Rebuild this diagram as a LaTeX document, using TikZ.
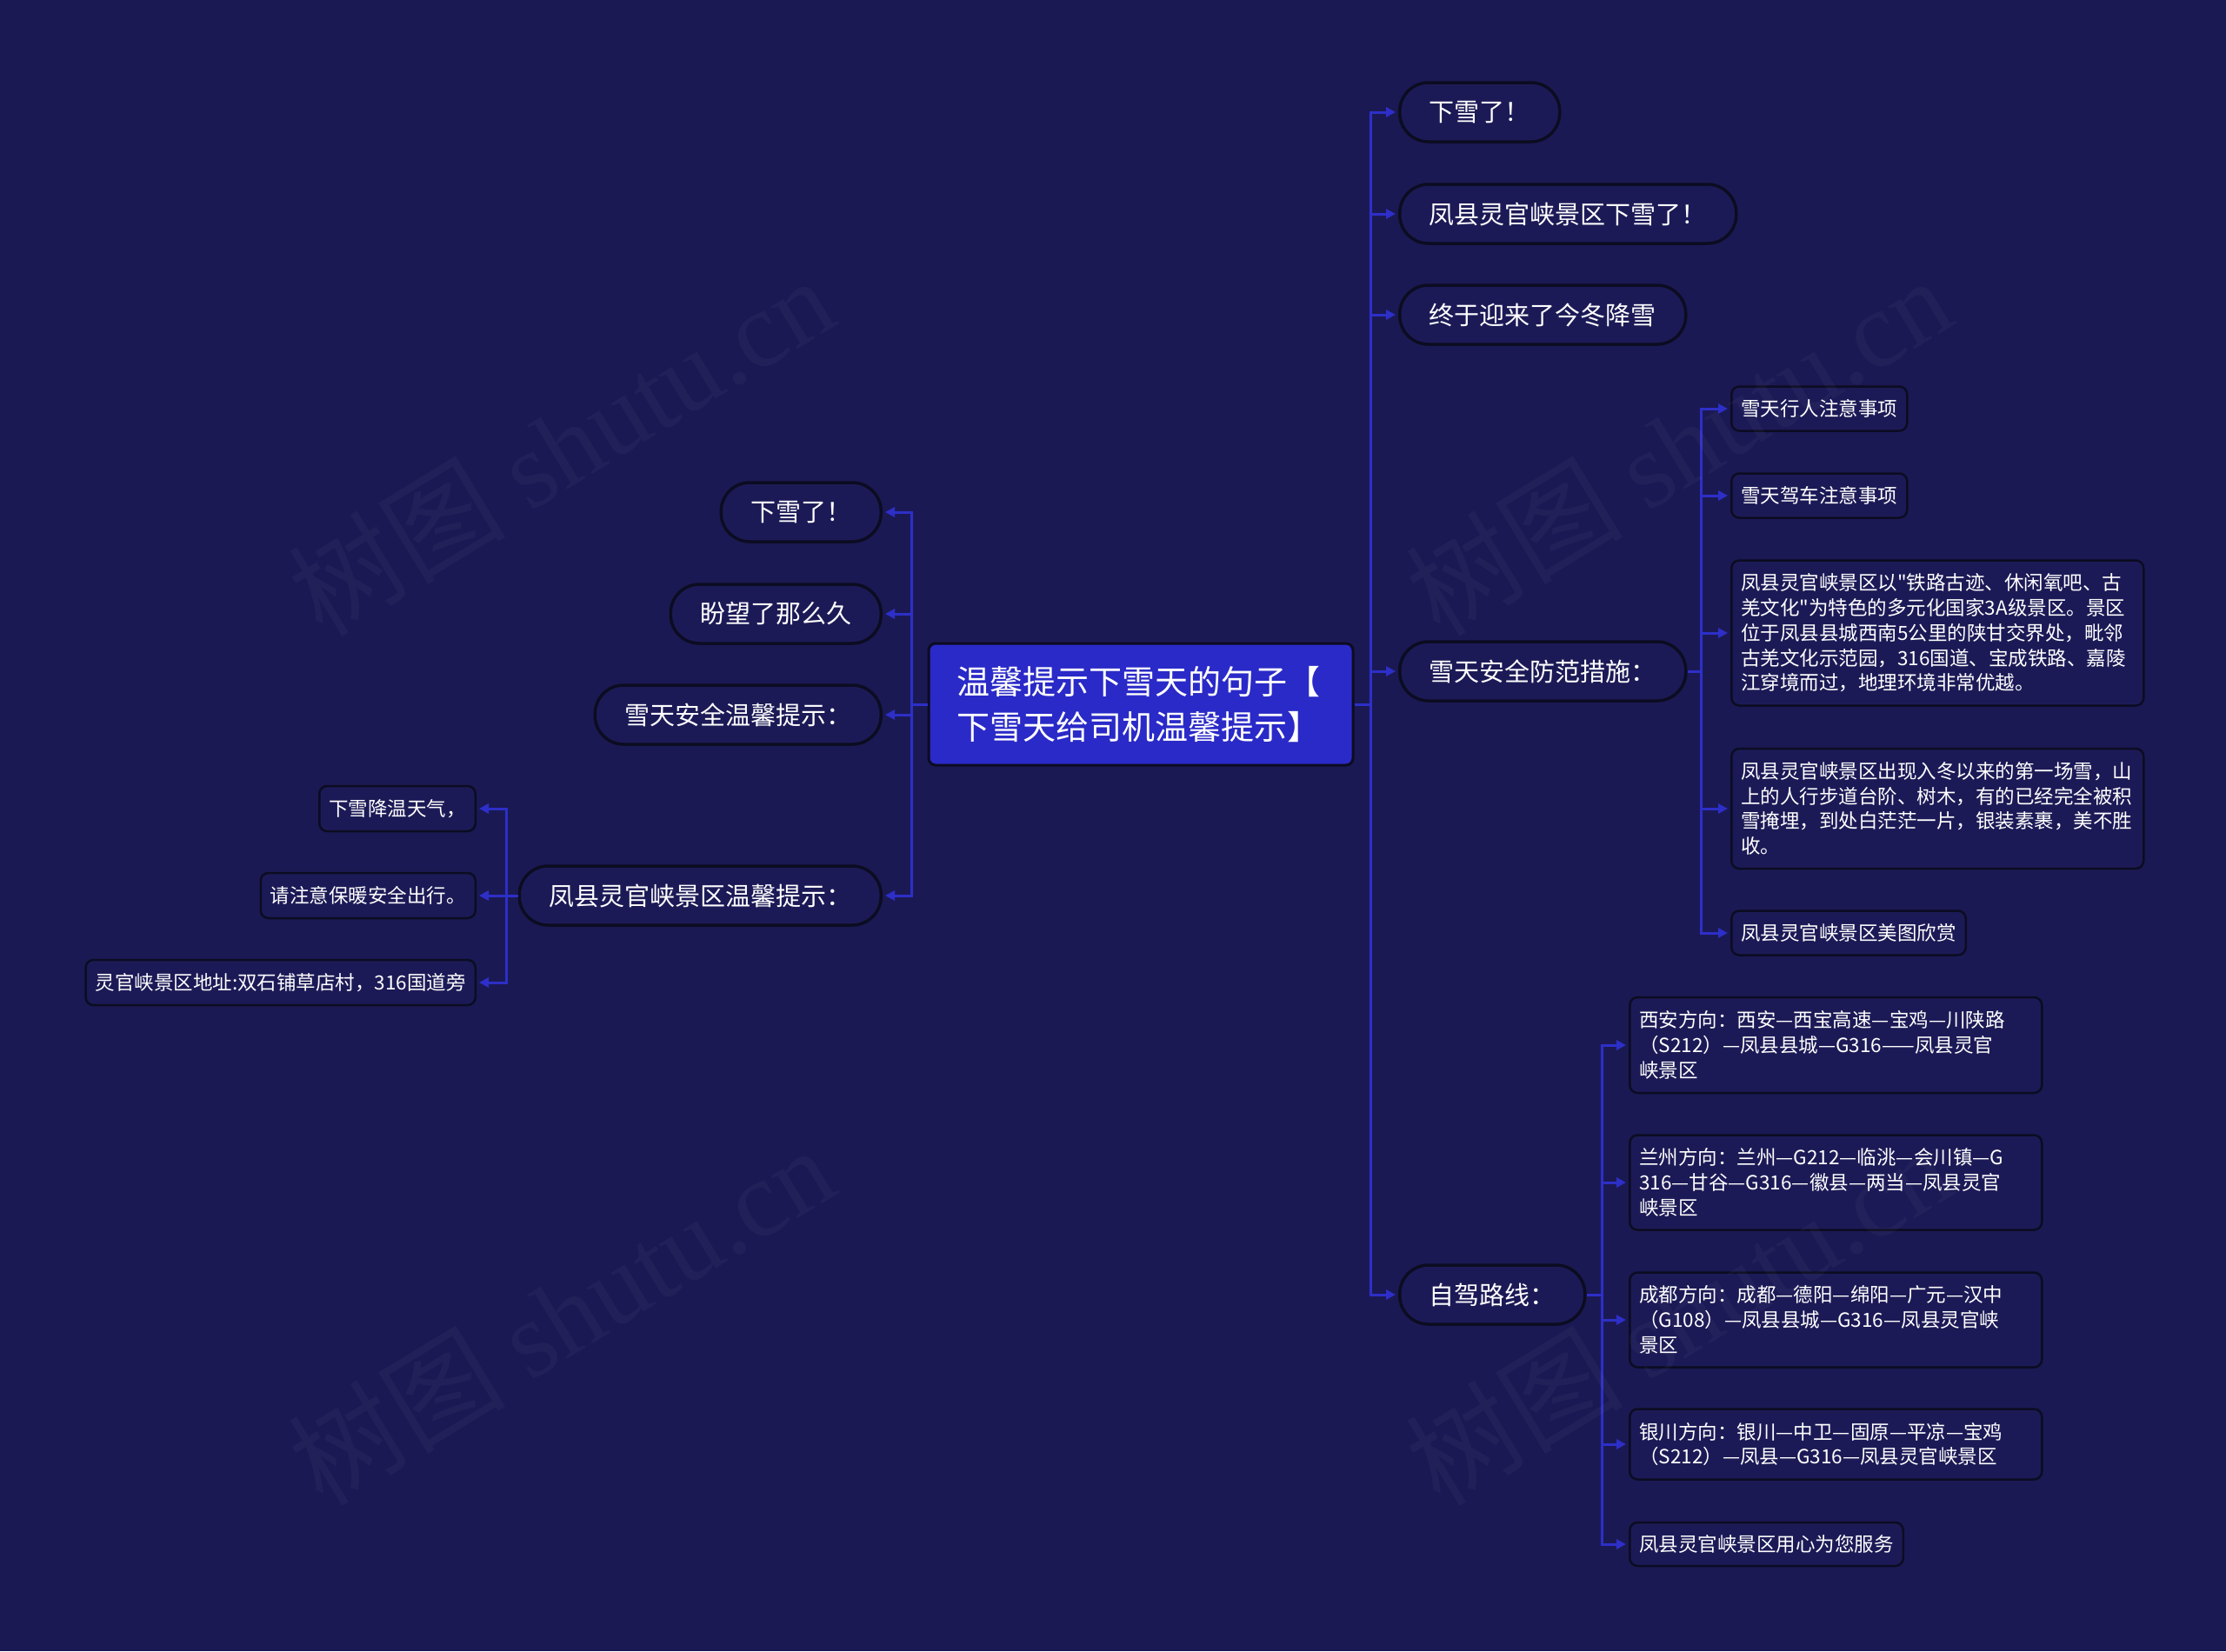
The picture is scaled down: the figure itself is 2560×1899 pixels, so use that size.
\documentclass[tikz,border=0pt]{standalone}
\usepackage{fontspec}
\newfontfamily\cjkfont{Noto Sans CJK SC}
\newfontfamily\wmserif{Liberation Serif}
\usetikzlibrary{arrows.meta}
\definecolor{bgc}{RGB}{27,25,83}
\definecolor{nodec}{RGB}{28,26,86}
\definecolor{bordc}{RGB}{12,12,34}
\definecolor{connc}{RGB}{45,47,200}
\definecolor{rootc}{RGB}{42,42,200}
\begin{document}
\begin{tikzpicture}[x=1pt,y=-1pt,
  conn/.style={draw=connc, line width=3pt},
  arr/.style={conn, -{Triangle[length=11pt,width=11pt]}, shorten >=3pt},
  rootbox/.style={draw=bordc, line width=3pt, fill=rootc, rounded corners=8pt,
    minimum height=140pt, inner xsep=32pt, inner ysep=0pt, text width=424pt,
    align=left, text=white, font=\cjkfont\fontsize{38}{52}\selectfont},
  lvone/.style={draw=bordc, line width=3.5pt, fill=nodec, rounded corners=33pt,
    minimum height=68pt, inner xsep=34pt, inner ysep=0pt, text=white,
    font=\cjkfont\fontsize{29}{35}\selectfont},
  leaf/.style={draw=bordc, line width=2.5pt, fill=nodec, rounded corners=9pt,
    minimum height=51pt, inner xsep=11pt, inner ysep=0pt, text=white,
    font=\cjkfont\fontsize{22.5}{28.7}\selectfont},
  multi/.style={leaf, align=left, text width=452pt},
  wmark/.style={rotate=31.4, text=white, text opacity=0.03,
    font=\cjkfont\fontsize{125}{130}\selectfont}
]
\path[fill=bgc] (0,0) rectangle (2560,1899);

% root
\node[rootbox] (root) at (1312,810) {温馨提示下雪天的句子【\\下雪天给司机温馨提示】};

% right first level
\node[lvone, anchor=west] (r1) at (1608,129) {下雪了！};
\node[lvone, anchor=west] (r2) at (1608,246) {凤县灵官峡景区下雪了！};
\node[lvone, anchor=west] (r3) at (1608,362) {终于迎来了今冬降雪};
\node[lvone, anchor=west] (r4) at (1608,772) {雪天安全防范措施：};
\node[lvone, anchor=west] (r5) at (1608,1489) {自驾路线：};

% left first level
\node[lvone, anchor=east] (l1) at (1015,589) {下雪了！};
\node[lvone, anchor=east] (l2) at (1015,706) {盼望了那么久};
\node[lvone, anchor=east] (l3) at (1015,822) {雪天安全温馨提示：};
\node[lvone, anchor=east] (l4) at (1015,1030) {凤县灵官峡景区温馨提示：};

% leaves of r4
\node[leaf, anchor=west] (a1) at (1990,470) {雪天行人注意事项};
\node[leaf, anchor=west] (a2) at (1990,570) {雪天驾车注意事项};
\node[multi, anchor=west, minimum height=167pt] (a3) at (1990,728)
  {凤县灵官峡景区以"铁路古迹、休闲氧吧、古\\羌文化"为特色的多元化国家3A级景区。景区\\位于凤县县城西南5公里的陕甘交界处，毗邻\\古羌文化示范园，316国道、宝成铁路、嘉陵\\江穿境而过，地理环境非常优越。};
\node[multi, anchor=west, minimum height=138pt] (a4) at (1990,930)
  {凤县灵官峡景区出现入冬以来的第一场雪，山\\上的人行步道台阶、树木，有的已经完全被积\\雪掩埋，到处白茫茫一片，银装素裹，美不胜\\收。};
\node[leaf, anchor=west] (a5) at (1990,1073) {凤县灵官峡景区美图欣赏};

% leaves of r5
\node[multi, anchor=west, minimum height=110pt] (b1) at (1873,1202)
  {西安方向：西安—西宝高速—宝鸡—川陕路\\（S212）—凤县县城—G316——凤县灵官\\峡景区};
\node[multi, anchor=west, minimum height=109pt] (b2) at (1873,1360)
  {兰州方向：兰州—G212—临洮—会川镇—G\\316—甘谷—G316—徽县—两当—凤县灵官\\峡景区};
\node[multi, anchor=west, minimum height=109pt] (b3) at (1873,1518)
  {成都方向：成都—德阳—绵阳—广元—汉中\\（G108）—凤县县城—G316—凤县灵官峡\\景区};
\node[multi, anchor=west, minimum height=81pt] (b4) at (1873,1661)
  {银川方向：银川—中卫—固原—平凉—宝鸡\\（S212）—凤县—G316—凤县灵官峡景区};
\node[leaf, anchor=west, minimum height=50pt] (b5) at (1873,1776) {凤县灵官峡景区用心为您服务};

% leaves of l4
\node[leaf, anchor=east, minimum height=52pt] (c1) at (548,930) {下雪降温天气，};
\node[leaf, anchor=east, minimum height=52pt] (c2) at (548,1030) {请注意保暖安全出行。};
\node[leaf, anchor=east, minimum height=52pt] (c3) at (548,1130) {灵官峡景区地址:双石铺草店村，316国道旁};

% connectors
\coordinate (rj) at (1576,810);
\coordinate (lj) at (1048,810);
\coordinate (fj) at (1956,772);
\coordinate (zj) at (1842,1489);
\coordinate (wj) at (582,1030);

\draw[conn] (root.east) -- (rj);
\foreach \n in {r1,r2,r3,r4,r5} \draw[arr] (rj) |- (\n.west);
\draw[conn] (root.west) -- (lj);
\foreach \n in {l1,l2,l3,l4} \draw[arr] (lj) |- (\n.east);
\draw[conn] (r4.east) -- (fj);
\foreach \n in {a1,a2,a3,a4,a5} \draw[arr] (fj) |- (\n.west);
\draw[conn] (r5.east) -- (zj);
\foreach \n in {b1,b2,b3,b4,b5} \draw[arr] (zj) |- (\n.west);
\draw[conn] (l4.west) -- (wj);
\foreach \n in {c1,c2,c3} \draw[arr] (wj) |- (\n.east);

% watermarks
\node[wmark] (w1) at (645,512) {树图 {\wmserif shutu.cn}};
\node[wmark] (w2) at (1930,512) {树图 {\wmserif shutu.cn}};
\node[wmark] (w3) at (645,1512) {树图 {\wmserif shutu.cn}};
\node[wmark] (w4) at (1930,1512) {树图 {\wmserif shutu.cn}};
\end{tikzpicture}
\end{document}
